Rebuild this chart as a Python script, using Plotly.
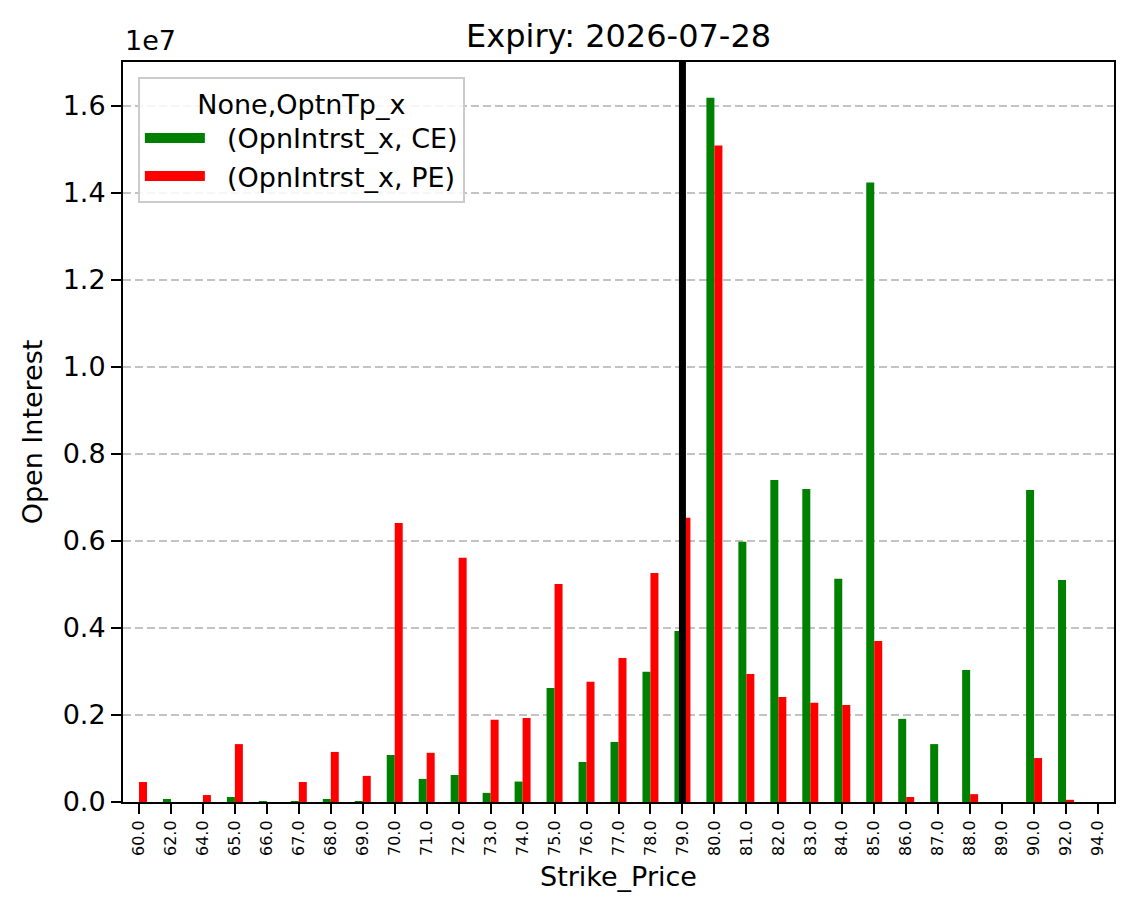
import plotly.graph_objects as go

strikes = ["60.0", "62.0", "64.0", "65.0", "66.0", "67.0", "68.0", "69.0", "70.0", "71.0",
           "72.0", "73.0", "74.0", "75.0", "76.0", "77.0", "78.0", "79.0", "80.0", "81.0",
           "82.0", "83.0", "84.0", "85.0", "86.0", "87.0", "88.0", "89.0", "90.0", "92.0", "94.0"]

ce_oi = [0, 70000, 0, 115000, 23000, 23000, 70000, 23000, 1080000, 530000,
         620000, 210000, 470000, 2620000, 920000, 1380000, 2990000, 3930000, 16180000, 5980000,
         7400000, 7190000, 5130000, 14230000, 1910000, 1330000, 3030000, 0, 7170000, 5100000, 0]

pe_oi = [460000, 0, 160000, 1330000, 0, 460000, 1150000, 600000, 6410000, 1130000,
         5610000, 1890000, 1930000, 5010000, 2760000, 3310000, 5260000, 6530000, 15080000, 2940000,
         2410000, 2280000, 2230000, 3700000, 115000, 0, 180000, 0, 1010000, 50000, 0]

series_names = ["(OpnIntrst_x, CE)", "(OpnIntrst_x, PE)"]
series_colors = ["#008000", "#ff0000"]

y_ticks = [0, 2e6, 4e6, 6e6, 8e6, 10e6, 12e6, 14e6, 16e6]
y_tick_text = ["0.0", "0.2", "0.4", "0.6", "0.8", "1.0", "1.2", "1.4", "1.6"]
spot_strike = "79.0"

FONT = "DejaVu Sans"

fig = go.Figure()
for vals, name, col in zip([ce_oi, pe_oi], series_names, series_colors):
    fig.add_trace(go.Bar(x=strikes, y=vals, name=name, showlegend=False,
                         marker=dict(color=col, line=dict(width=0))))
# legend swatches (wide rectangles like matplotlib patches)
for name, col in zip(series_names, series_colors):
    fig.add_trace(go.Scatter(x=[None], y=[None], mode="lines", name="  " + name,
                             line=dict(color=col, width=19), showlegend=True))

spot_idx = strikes.index(spot_strike)
fig.add_shape(type="line", xref="x", yref="paper", x0=spot_idx, x1=spot_idx,
              y0=0, y1=1, line=dict(color="black", width=7), layer="above")

fig.add_annotation(text="1e7", xref="paper", yref="paper", x=0, y=1,
                   xanchor="left", yanchor="bottom", yshift=4, showarrow=False,
                   font=dict(family=FONT, size=27, color="black"))

fig.update_layout(
    width=1134, height=918,
    margin=dict(l=123, r=20, t=62, b=116),
    paper_bgcolor="white", plot_bgcolor="white",
    barmode="group", bargap=0.5, bargroupgap=0,
    font=dict(family=FONT, color="black", size=27),
    title=dict(text="Expiry: 2026-07-28", x=0.5455, xanchor="center",
               y=1 - 36 / 918, yanchor="middle",
               font=dict(family=FONT, size=32, color="black")),
    legend=dict(
        title=dict(text="None,OptnTp_x", side="top center",
                   font=dict(family=FONT, size=27)),
        x=0.015, y=0.98, xanchor="left", yanchor="top",
        bgcolor="rgba(255,255,255,0.85)", bordercolor="#cccccc", borderwidth=2,
        font=dict(family=FONT, size=27), itemwidth=60,
    ),
    xaxis=dict(
        type="category", categoryorder="array", categoryarray=strikes,
        range=[-0.5, len(strikes) - 0.5],
        showline=True, linecolor="black", linewidth=2, mirror=True,
        ticks="outside", ticklen=10, tickwidth=2, tickcolor="black",
        tickangle=-90, tickfont=dict(family=FONT, size=16),
        showgrid=False,
        title=dict(text="Strike_Price", font=dict(family=FONT, size=27), standoff=12),
    ),
    yaxis=dict(
        range=[0, 1.7e7], tickmode="array", tickvals=y_ticks, ticktext=y_tick_text,
        showline=True, linecolor="black", linewidth=2, mirror=True,
        ticks="outside", ticklen=10, tickwidth=2, tickcolor="black",
        tickfont=dict(family=FONT, size=27),
        showgrid=True, gridcolor="rgba(170,170,170,0.7)", gridwidth=2, griddash="8px,4px",
        zeroline=False,
        title=dict(text="Open Interest", font=dict(family=FONT, size=27), standoff=12),
    ),
)

fig.write_html("out.html")
